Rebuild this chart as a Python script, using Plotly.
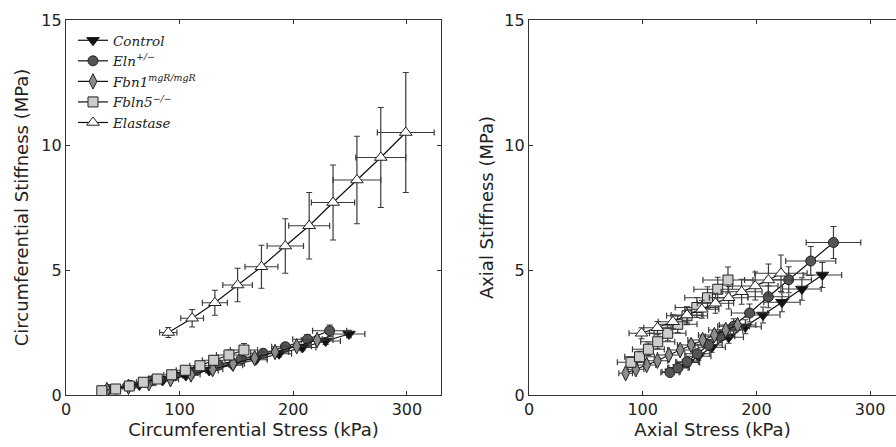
import plotly.graph_objects as go

names = ["<i>Control</i>", "<i>Eln</i><sup><i>+/−</i></sup>", "<i>Fbn1</i><sup><i>mgR/mgR</i></sup>",
         "<i>Fbln5</i><sup><i>−/−</i></sup>", "<i>Elastase</i>"]
symbols = ["triangle-down", "circle", "diamond-tall", "square", "triangle-up"]
fills = ["#111111", "#555555", "#8c8c8c", "#cccccc", "#ffffff"]

# ---- Circumferential (left) ----
c_ctrl_x = [44, 64.5, 85, 105.5, 126, 146.5, 167, 187.5, 208, 228.5, 249]
c_ctrl_y = [0.24, 0.4, 0.58, 0.78, 0.98, 1.19, 1.41, 1.65, 1.9, 2.16, 2.44]
c_ctrl_ex = [4, 5, 6, 7, 8, 9, 10, 11, 12, 13, 14]
c_ctrl_ey = [0.05, 0.06, 0.07, 0.08, 0.09, 0.1, 0.11, 0.12, 0.13, 0.14, 0.15]

c_eln_x = [37, 56.5, 76, 95.5, 115, 134.5, 154, 173.5, 193, 212.5, 232]
c_eln_y = [0.22, 0.38, 0.57, 0.77, 0.98, 1.2, 1.43, 1.67, 1.93, 2.23, 2.57]
c_eln_ex = [4, 5, 6, 7, 8, 9, 10, 11, 12, 13, 15]
c_eln_ey = [0.05, 0.06, 0.07, 0.08, 0.09, 0.1, 0.12, 0.14, 0.16, 0.19, 0.23]

c_fbn_x = [36, 55, 73, 92, 110, 129, 147, 166, 184, 203, 221]
c_fbn_y = [0.2, 0.33, 0.47, 0.63, 0.82, 1.03, 1.25, 1.48, 1.72, 1.95, 2.2]
c_fbn_ex = [4, 5, 6, 7, 8, 9, 10, 11, 12, 13, 14]
c_fbn_ey = [0.05, 0.06, 0.07, 0.08, 0.09, 0.1, 0.11, 0.12, 0.13, 0.14, 0.15]

c_fbl_x = [31.5, 43.7, 55.7, 68, 80.3, 93, 105, 117.9, 130, 143.4, 156.6]
c_fbl_y = [0.17, 0.24, 0.36, 0.51, 0.64, 0.81, 0.99, 1.17, 1.39, 1.6, 1.8]
c_fbl_ex = [3, 4, 5, 6, 6, 7, 8, 9, 10, 11, 12]
c_fbl_ey = [0.04, 0.05, 0.06, 0.07, 0.09, 0.1, 0.12, 0.14, 0.17, 0.2, 0.26]

c_ela_x = [90, 111, 131, 151, 172, 193, 214, 235, 256, 277, 299]
c_ela_y = [2.5, 3.07, 3.69, 4.4, 5.13, 5.96, 6.77, 7.7, 8.6, 9.5, 10.5]
c_ela_ex = [7.6, 10, 11, 13, 14.5, 16, 18, 19, 21, 22, 25]
c_ela_ey = [0.2, 0.35, 0.5, 0.67, 0.86, 1.09, 1.33, 1.5, 1.75, 2.0, 2.4]

# ---- Axial (right) ----
a_ctrl_x = [125, 132, 140, 149, 160.7, 175.6, 190.3, 205.8, 222.5, 240, 258]
a_ctrl_y = [0.93, 1.1, 1.3, 1.55, 1.91, 2.31, 2.73, 3.2, 3.71, 4.24, 4.8]
a_ctrl_ex = [8, 9, 10, 11, 12, 13, 14, 15, 16, 17, 17]
a_ctrl_ey = [0.1, 0.12, 0.14, 0.16, 0.2, 0.24, 0.28, 0.32, 0.38, 0.45, 0.5]

a_eln_x = [124, 131, 139, 148, 158, 168, 180, 194, 210.5, 228.4, 247.8, 267.8]
a_eln_y = [0.9, 1.08, 1.33, 1.65, 2.0, 2.35, 2.75, 3.28, 3.93, 4.61, 5.36, 6.1]
a_eln_ex = [8, 9, 10, 11, 12, 13, 14, 16, 18, 20, 22, 24]
a_eln_ey = [0.1, 0.12, 0.15, 0.18, 0.22, 0.26, 0.3, 0.36, 0.44, 0.52, 0.58, 0.64]

a_fbn_x = [85, 94, 103.5, 113, 123, 133, 142.6, 152.7, 163, 173, 183.5]
a_fbn_y = [0.87, 1.03, 1.2, 1.37, 1.6, 1.8, 2.0, 2.2, 2.4, 2.6, 2.8]
a_fbn_ex = [6, 7, 8, 9, 10, 11, 12, 13, 14, 15, 16]
a_fbn_ey = [0.08, 0.09, 0.1, 0.11, 0.12, 0.13, 0.14, 0.15, 0.16, 0.17, 0.18]

a_fbl_x = [89.7, 97.2, 105, 113.2, 122, 130.8, 139, 147.6, 157, 166, 175]
a_fbl_y = [1.31, 1.53, 1.83, 2.13, 2.47, 2.83, 3.17, 3.5, 3.89, 4.23, 4.6]
a_fbl_ex = [12, 13, 14, 15, 16, 17, 18, 19, 20, 21, 22]
a_fbl_ey = [0.2, 0.22, 0.25, 0.28, 0.3, 0.33, 0.36, 0.4, 0.44, 0.48, 0.52]

a_ela_x = [99, 113, 126.6, 139, 152, 164, 175.6, 187, 199, 210.6, 221.6]
a_ela_y = [2.47, 2.69, 2.93, 3.2, 3.43, 3.67, 3.89, 4.13, 4.36, 4.6, 4.87]
a_ela_ex = [11, 12, 13, 14, 15, 16, 17, 18, 20, 21, 23]
a_ela_ey = [0.22, 0.25, 0.28, 0.32, 0.36, 0.4, 0.45, 0.5, 0.56, 0.64, 0.73]

left = [(c_ctrl_x, c_ctrl_y, c_ctrl_ex, c_ctrl_ey), (c_eln_x, c_eln_y, c_eln_ex, c_eln_ey),
        (c_fbn_x, c_fbn_y, c_fbn_ex, c_fbn_ey), (c_fbl_x, c_fbl_y, c_fbl_ex, c_fbl_ey),
        (c_ela_x, c_ela_y, c_ela_ex, c_ela_ey)]
right = [(a_ctrl_x, a_ctrl_y, a_ctrl_ex, a_ctrl_ey), (a_eln_x, a_eln_y, a_eln_ex, a_eln_ey),
         (a_fbn_x, a_fbn_y, a_fbn_ex, a_fbn_ey), (a_fbl_x, a_fbl_y, a_fbl_ex, a_fbl_ey),
         (a_ela_x, a_ela_y, a_ela_ex, a_ela_ey)]

fig = go.Figure()
ERR = "#3a3a3a"
for panel, (xa, ya) in ((left, ("x", "y")), (right, ("x2", "y2"))):
    for i, (x, y, ex, ey) in enumerate(panel):
        size = 10 if symbols[i] in ("circle", "square") else 11
        fig.add_trace(go.Scatter(
            x=x, y=y, xaxis=xa, yaxis=ya, mode="lines+markers",
            name=names[i], showlegend=(xa == "x"), legendrank=i + 1,
            line=dict(color="#111111", width=1.2),
            marker=dict(symbol=symbols[i], size=size, color=fills[i],
                        line=dict(color="#222222", width=1)),
            error_x=dict(type="data", array=ex, color=ERR, thickness=1.2, width=3),
            error_y=dict(type="data", array=ey, color=ERR, thickness=1.2, width=3),
        ))

TICKF = dict(family="DejaVu Sans", size=16, color="#222222")
TITLEF = dict(family="DejaVu Sans", size=18, color="#222222")
W = 830.0
axis_common = dict(showgrid=False, zeroline=False, ticks="inside", ticklen=4,
                   tickcolor="#333333", linecolor="#333333", linewidth=1.2,
                   showline=True, tickfont=TICKF)

fig.update_layout(
    width=896, height=447,
    margin=dict(l=66, r=0, t=20, b=52),
    paper_bgcolor="white", plot_bgcolor="white",
    xaxis=dict(domain=[0, 375 / W], range=[0, 330], tickvals=[0, 100, 200, 300],
               title=dict(text="Circumferential Stress (kPa)", font=TITLEF, standoff=3),
               mirror="ticks", anchor="y", **axis_common),
    yaxis=dict(domain=[0, 1], range=[0, 15], tickvals=[0, 5, 10, 15],
               title=dict(text="Circumferential Stiffness (MPa)", font=TITLEF, standoff=8),
               mirror="ticks", anchor="x", **axis_common),
    xaxis2=dict(domain=[(529 - 66) / W, 1], range=[0, (896 - 529) / 1.137],
                tickvals=[0, 100, 200, 300],
                title=dict(text="Axial Stress (kPa)", font=TITLEF, standoff=3),
                mirror="ticks", anchor="y2", **axis_common),
    yaxis2=dict(domain=[0, 1], range=[0, 15], tickvals=[0, 5, 10, 15],
                title=dict(text="Axial Stiffness (MPa)", font=TITLEF, standoff=6),
                mirror=False, anchor="x2", **axis_common),
    legend=dict(x=(73 - 66) / W, y=1 - 5 / 375.0, xanchor="left", yanchor="top",
                bgcolor="rgba(255,255,255,0)", borderwidth=0,
                font=dict(family="DejaVu Serif", size=13.5, color="#222222"),
                tracegroupgap=0, itemwidth=30),
    showlegend=True,
)

fig.write_html("out.html", config={"displayModeBar": False},
               post_script="document.body.style.margin='0';document.body.style.padding='0';")
